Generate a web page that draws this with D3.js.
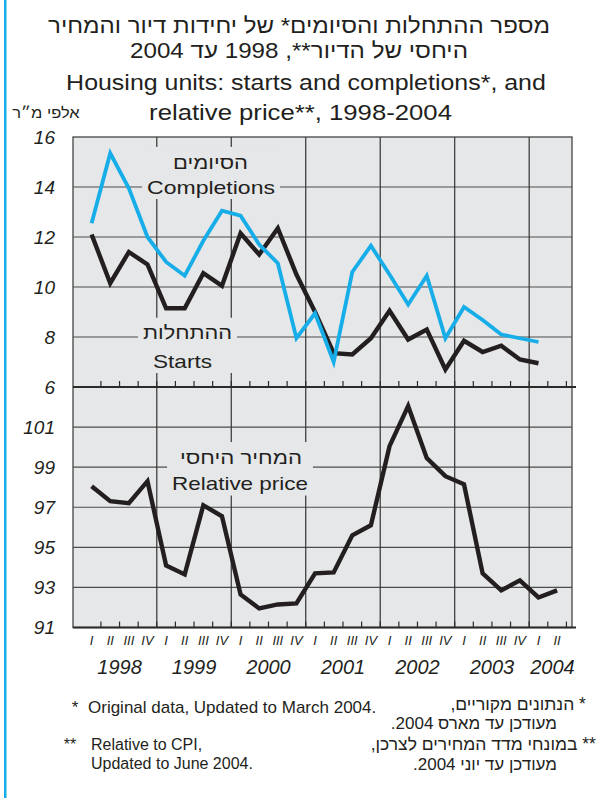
<!DOCTYPE html>
<html>
<head>
<meta charset="utf-8">
<title>Housing units: starts and completions</title>
<script src="https://cdn.jsdelivr.net/npm/d3@7"></script>
<style>
	body { margin: 0; background: #fff; }
	text { font-family: "Liberation Sans", Arial, sans-serif; fill: #231f20; }
</style>
</head>
<body>
<script>
// data (quarterly, 1998 Q1 onwards)
var years = ["1998", "1999", "2000", "2001", "2002", "2003", "2004"];
var quarterNames = ["I", "II", "III", "IV"];
// thousand sq. m, 1998Q1 - 2004Q1
var completions = [12.55, 15.35, 13.95, 12.0, 11.0, 10.45, 11.85, 13.05, 12.85, 11.7, 10.95, 7.95,
	8.95, 7.0, 10.6, 11.65, 10.5, 9.3, 10.45, 7.95, 9.2, 8.68, 8.1, 7.95, 7.8];
var starts = [12.1, 10.15, 11.4, 10.9, 9.15, 9.15, 10.55, 10.05, 12.15, 11.3, 12.35, 10.5,
	9.0, 7.35, 7.3, 7.95, 9.05, 7.9, 8.3, 6.7, 7.85, 7.4, 7.65, 7.1, 6.95];
// relative price, 1998Q1 - 2004Q2
var relPrice = [98.05, 97.3, 97.2, 98.3, 94.1, 93.65, 97.1, 96.55, 92.65, 91.95, 92.15, 92.2,
	93.7, 93.75, 95.6, 96.1, 100.05, 102.05, 99.45, 98.55, 98.15, 93.7, 92.85, 93.35, 92.5, 92.85];
var unitTicks = [6, 8, 10, 12, 14, 16];
var priceTicks = [91, 93, 95, 97, 99, 101];

var W = 597, H = 798;
var m = {left: 73, right: 572, top: 137, mid: 387, bottom: 627.5};
var plotBg = "#e6e7e8", blue = "#16ade8", ink = "#231f20";

var svg = d3.select("body").append("svg")
	.attr("width", W).attr("height", H);

// quarter i occupies [i, i+1]
var x = d3.scaleLinear().domain([-0.5, 26.3]).range([m.left, m.right]);
var yTop = d3.scaleLinear().domain([6, 16]).range([m.mid, m.top]);
var yBot = d3.scaleLinear().domain([91, 103]).range([m.bottom, m.mid]);

// text helper: centred at cx, optionally stretched to a given width
function addText(parent, str, cx, y, o) {
	var g = parent.append("g");
	var t = g.append("text")
		.attr("text-anchor", o.anchor || "middle")
		.style("font-size", o.size + "px")
		.text(str);
	if (o.italic) t.style("font-style", "italic");
	if (o.rtl) t.attr("direction", "rtl");
	var sx = 1;
	if (o.width) sx = o.width / t.node().getBBox().width;
	g.attr("transform", "translate(" + cx + "," + y + ") scale(" + sx + ",1)");
	return g;
}
function span(parent, str, left, right, y, o) {
	o.width = right - left;
	return addText(parent, str, (left + right) / 2, y, o);
}
// right aligned, natural width (works the same for rtl strings)
function rightAt(parent, str, right, y, o) {
	var g = addText(parent, str, 0, y, o);
	var w = g.node().getBBox().width;
	g.attr("transform", "translate(" + (right - w / 2) + "," + y + ")");
	return g;
}

// left blue rule
svg.append("rect").attr("x", 4).attr("y", 0).attr("width", 2.5).attr("height", H).attr("fill", blue);

// titles
span(svg, "מספר ההתחלות והסיומים* של יחידות דיור והמחיר", 48, 550, 33, {size: 22, rtl: true});
span(svg, "היחסי של הדיור**, 1998 עד 2004", 130, 468, 58, {size: 22, rtl: true});
span(svg, "Housing units: starts and completions*, and", 66, 546, 89.5, {size: 21.5});
span(svg, "relative price**, 1998-2004", 149, 452, 120, {size: 21.5});
span(svg, "אלפי מ״ר", 12, 80, 118, {size: 15, rtl: true});

// plot background
svg.append("rect").attr("x", m.left).attr("y", m.top)
	.attr("width", m.right - m.left).attr("height", m.bottom - m.top)
	.attr("fill", plotBg);

var grid = svg.append("g").attr("stroke", "#4d4d4d").attr("stroke-width", 1.2);
grid.selectAll(".hT").data(unitTicks.filter(function(d) { return d > 6 && d < 16; }))
	.enter().append("line")
	.attr("x1", m.left).attr("x2", m.right)
	.attr("y1", function(d) { return yTop(d); }).attr("y2", function(d) { return yTop(d); });
grid.selectAll(".hB").data(priceTicks.filter(function(d) { return d > 91; }))
	.enter().append("line")
	.attr("x1", m.left).attr("x2", m.right)
	.attr("y1", function(d) { return yBot(d); }).attr("y2", function(d) { return yBot(d); });
grid.selectAll(".v").data(d3.range(1, years.length))
	.enter().append("line")
	.attr("stroke", "#333")
	.attr("x1", function(k) { return x(k * 4); }).attr("x2", function(k) { return x(k * 4); })
	.attr("y1", m.top).attr("y2", m.bottom);

// frame
svg.append("rect").attr("x", m.left).attr("y", m.top)
	.attr("width", m.right - m.left).attr("height", m.bottom - m.top)
	.attr("fill", "none").attr("stroke", "#444").attr("stroke-width", 1.3);

// series labels with background patches that break the grid
function seriesLabel(lines) {
	var g = svg.append("g");
	var bg = g.append("rect").attr("fill", plotBg);
	var tg = g.append("g");
	lines.forEach(function(l) { span(tg, l[0], l[1], l[2], l[3], {size: l[4], rtl: l[5]}); });
	var b = tg.node().getBBox();
	bg.attr("x", b.x - 5).attr("y", b.y - 4).attr("width", b.width + 10).attr("height", b.height + 6);
}
seriesLabel([["הסיומים", 173, 248, 168.5, 19, true], ["Completions", 147, 275, 193.5, 18, false]]);
seriesLabel([["ההתחלות", 143, 232, 338.5, 19, true], ["Starts", 153, 212, 367.5, 18, false]]);
seriesLabel([["המחיר היחסי", 180, 302, 463.5, 19, true], ["Relative price", 172, 308, 490, 18, false]]);

// lines
var lineTop = d3.line().x(function(d, i) { return x(i + 0.5); }).y(function(d) { return yTop(d); });
var lineBot = d3.line().x(function(d, i) { return x(i + 0.5); }).y(function(d) { return yBot(d); });

svg.append("path").datum(starts).attr("d", lineTop)
	.attr("fill", "none").attr("stroke", ink).attr("stroke-width", 4.4).attr("stroke-linejoin", "miter");
svg.append("path").datum(completions).attr("d", lineTop)
	.attr("fill", "none").attr("stroke", blue).attr("stroke-width", 3.8).attr("stroke-linejoin", "miter");
svg.append("path").datum(relPrice).attr("d", lineBot)
	.attr("fill", "none").attr("stroke", ink).attr("stroke-width", 4.4).attr("stroke-linejoin", "miter");

// panel base lines with quarter ticks
[m.mid, m.bottom].forEach(function(yy) {
	svg.append("line").attr("x1", m.left).attr("x2", m.right + 4)
		.attr("y1", yy).attr("y2", yy).attr("stroke", "#2b2b2b").attr("stroke-width", 2);
	svg.append("g").selectAll("line").data(d3.range(1, 27))
		.enter().append("line")
		.attr("x1", function(j) { return x(j); }).attr("x2", function(j) { return x(j); })
		.attr("y1", yy).attr("y2", yy - 6)
		.attr("stroke", "#2b2b2b").attr("stroke-width", 1.2);
});

// y tick labels
unitTicks.forEach(function(v) {
	addText(svg, v, 55, yTop(v) + 6.5, {size: 19, italic: true, anchor: "end"});
});
priceTicks.forEach(function(v) {
	addText(svg, v, 55, yBot(v) + 6.5, {size: 19, italic: true, anchor: "end"});
});

// quarter and year labels
relPrice.forEach(function(d, i) {
	addText(svg, quarterNames[i % 4], x(i + 0.5), 645, {size: 13, italic: true});
});
years.forEach(function(yr, k) {
	var cx = k < years.length - 1 ? x(k * 4 + 2) : x(25.25);
	addText(svg, yr, cx, 674, {size: 20, italic: true});
});

// footnotes
addText(svg, "*", 75, 713, {size: 17});
addText(svg, "Original data, Updated to March 2004.", 88, 713, {size: 17, anchor: "start"});
addText(svg, "**", 70, 750, {size: 16});
addText(svg, "Relative to CPI,", 91, 750, {size: 16, anchor: "start"});
addText(svg, "Updated to June 2004.", 91, 768.5, {size: 16, anchor: "start"});

rightAt(svg, "* הנתונים מקוריים,", 586, 710, {size: 17.5, rtl: true});
rightAt(svg, "מעודכן עד מארס 2004.", 557, 729, {size: 17, rtl: true});
rightAt(svg, "** במונחי מדד המחירים לצרכן,", 596, 750, {size: 17.5, rtl: true});
rightAt(svg, "מעודכן עד יוני 2004.", 557, 770, {size: 17, rtl: true});
</script>
</body>
</html>
